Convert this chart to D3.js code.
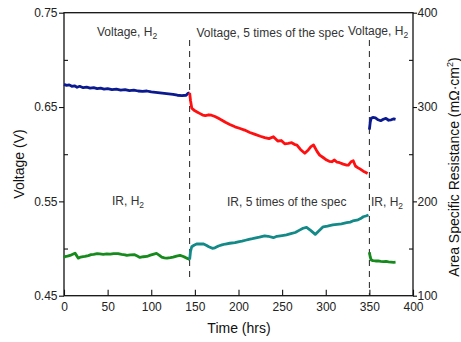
<!DOCTYPE html>
<html>
<head>
    <meta charset="UTF-8">
    <title>Voltage and IR vs time</title>
    <script src="https://d3js.org/d3.v7.min.js"></script>
    <style>
        body { margin: 0; background: white; }
        svg text { font-family: "Liberation Sans", Arial, sans-serif; }
    </style>
</head>
<body>
    <svg id="chart" width="461" height="342"></svg>

    <script>
        // voltage (V), [hrs, value]
        let voltageH2Start = [[0,0.674],[3,0.673],[6,0.6735],[9,0.672],[12,0.6725],[15,0.671],[18,0.672],[22,0.6705],[26,0.671],[30,0.670],[34,0.6705],[38,0.6695],[42,0.670],[46,0.669],[50,0.6695],[55,0.6685],[60,0.669],[65,0.668],[70,0.6685],[75,0.6675],[80,0.668],[85,0.667],[90,0.6665],[95,0.667],[100,0.666],[105,0.6655],[110,0.665],[115,0.6645],[120,0.664],[125,0.6635],[130,0.6625],[135,0.662],[140,0.6625],[142,0.6645],[144,0.665]];
        let voltage5x = [[144,0.665],[145,0.657],[146.4,0.649],[148,0.6475],[150,0.646],[153,0.6445],[156,0.643],[159,0.6415],[162,0.641],[166,0.6418],[169,0.6413],[173,0.640],[177,0.638],[181,0.636],[185,0.6338],[190,0.6315],[196,0.629],[201,0.6275],[207,0.6256],[213,0.623],[219,0.621],[225,0.619],[230,0.6175],[235,0.6165],[240,0.6185],[245,0.614],[249,0.6145],[253,0.611],[257,0.6115],[261,0.6122],[264,0.6105],[267,0.6097],[271,0.605],[276,0.601],[280,0.6045],[283,0.608],[286,0.6097],[290,0.603],[293,0.599],[297,0.5965],[301,0.5938],[304,0.5925],[307,0.592],[310,0.5938],[313,0.5915],[316,0.591],[320,0.5895],[324,0.5885],[326,0.5885],[329,0.592],[331.5,0.593],[334,0.5875],[337,0.5855],[340,0.584],[343,0.582],[346,0.5805],[348,0.5795]];
        let voltageH2End = [[350,0.626],[351,0.634],[352,0.638],[354,0.639],[357,0.6385],[360,0.6365],[363,0.6355],[366,0.637],[369,0.638],[372,0.636],[375,0.6365],[378,0.6375],[380,0.637]];

        // area specific resistance (mOhm cm2), [hrs, value]
        let irH2Start = [[0,140.5],[1,141.5],[4,142],[7,142.7],[10,144],[12.6,145.1],[14.5,142.5],[16.4,139.8],[19,141],[22,141.5],[24,141.6],[28,142.5],[31,143.5],[34,143.8],[38,144.5],[41,144.3],[45,143.9],[49,144.3],[53,144.1],[57,144.7],[62,144.5],[66,143.7],[70,143.3],[72,142.7],[76,143.2],[81,143.4],[84,142],[87,140.6],[91,141.3],[95,141.6],[99,143],[103,144.1],[106,144.8],[109,143],[112,140.9],[115,140.1],[118,139.8],[122,140.3],[125,140.9],[129,142],[133,142.7],[136,141.8],[139,140.6],[142,139.3],[144,138.3]];
        let ir5x = [[144,138.3],[145,147],[146.4,151.9],[149,153.5],[152,154.8],[156,155],[160,154.8],[163,153.5],[166,151.9],[170,150.2],[173,150.8],[177,152.7],[181,153.8],[185,154.8],[190,155.6],[196,156.2],[201,157.4],[204,157.8],[208,158.8],[212,159.8],[216,160.5],[220,161.3],[224,162],[230,163.5],[234,163],[240,161.5],[244,163],[250,163.8],[255,164.5],[260,165.8],[265,167],[270,169.5],[274,171.5],[278,172.5],[283,169],[288,165],[292,168.5],[297,173],[302,173.8],[308,175],[313,175.6],[318,176.2],[324,177.4],[328,178],[331,179.2],[337,180.5],[340,181.8],[343,183.7],[346,184.5],[349,185.6]];
        let irH2End = [[350,146],[351,141],[352,138],[354,137.2],[357,136.8],[360,137],[363,136.5],[366,136.2],[369,136.3],[372,135.8],[375,135.6],[378,135.3],[380,135.5]];

        let xTicks = [0, 50, 100, 150, 200, 250, 300, 350, 400];
        let leftTicks = [0.45, 0.55, 0.65, 0.75];
        let leftMinor = [0.50, 0.60, 0.70];
        let rightTicks = [100, 200, 300, 400];
        let rightMinor = [150, 250, 350];
        let switchHrs = [144, 350];

        let svg = d3.select("svg#chart");
        let margin = { top: 12.7, right: 48, bottom: 46.3, left: 64 };
        let width = +svg.attr("width");
        let height = +svg.attr("height");
        let plotRight = width - margin.right;
        let plotBottom = height - margin.bottom;

        let xScale = d3.scaleLinear().domain([0, 400]).range([margin.left, plotRight]);
        let vScale = d3.scaleLinear().domain([0.45, 0.75]).range([plotBottom, margin.top]);
        let rScale = d3.scaleLinear().domain([100, 400]).range([plotBottom, margin.top]);

        // axes
        let bottomAxis = d3.axisBottom(xScale).tickValues(xTicks)
            .tickSizeInner(-6).tickSizeOuter(0).tickPadding(7);
        svg.append("g").attr("class", "x axis")
            .attr("transform", "translate(0," + plotBottom + ")")
            .call(bottomAxis);

        let leftAxis = d3.axisLeft(vScale).tickValues(leftTicks)
            .tickFormat(d3.format(".2f")).tickSizeInner(5).tickSizeOuter(0).tickPadding(1.5);
        svg.append("g").attr("class", "y axis")
            .attr("transform", "translate(" + margin.left + ",0)")
            .call(leftAxis);
        svg.append("g").attr("class", "y minor")
            .attr("transform", "translate(" + margin.left + ",0)")
            .call(d3.axisLeft(vScale).tickValues(leftMinor).tickSizeInner(-4).tickSizeOuter(0).tickFormat(""));

        let rightAxis = d3.axisRight(rScale).tickValues(rightTicks)
            .tickSizeInner(4).tickSizeOuter(0).tickPadding(0.5);
        svg.append("g").attr("class", "r axis")
            .attr("transform", "translate(" + plotRight + ",0)")
            .call(rightAxis);
        svg.append("g").attr("class", "r minor")
            .attr("transform", "translate(" + plotRight + ",0)")
            .call(d3.axisRight(rScale).tickValues(rightMinor).tickSizeInner(-4).tickSizeOuter(0).tickFormat(""));

        svg.selectAll(".axis .domain, .minor .domain").remove();
        svg.selectAll(".tick line").attr("stroke", "#111").attr("stroke-width", 1.1);
        svg.selectAll(".tick text").attr("fill", "#222").style("font-size", "12px")
            .attr("font-family", "Liberation Sans, Arial, sans-serif");

        // frame
        svg.append("rect")
            .attr("x", margin.left).attr("y", margin.top)
            .attr("width", plotRight - margin.left).attr("height", plotBottom - margin.top)
            .attr("fill", "none").attr("stroke", "#111").attr("stroke-width", 1.3);

        // dashed separators
        svg.selectAll("line.switch").data(switchHrs)
            .join("line").attr("class", "switch")
            .attr("x1", d => xScale(d)).attr("x2", d => xScale(d))
            .attr("y1", 40)
            .attr("y2", (d, i) => i == 0 ? 278 : plotBottom)
            .attr("stroke", "#222").attr("stroke-width", 1)
            .attr("stroke-dasharray", "6,5");

        // series
        let series = [
            { data: voltageH2Start, scale: vScale, color: "#0b1a8f" },
            { data: voltage5x, scale: vScale, color: "#ff0f0f" },
            { data: voltageH2End, scale: vScale, color: "#0b1a8f" },
            { data: irH2Start, scale: rScale, color: "#168a1c" },
            { data: ir5x, scale: rScale, color: "#138a88" },
            { data: irH2End, scale: rScale, color: "#168a1c" }
        ];
        series.forEach(s => {
            let line = d3.line().x(d => xScale(d[0])).y(d => s.scale(d[1]));
            svg.append("path").datum(s.data)
                .attr("d", line)
                .attr("fill", "none")
                .attr("stroke", s.color)
                .attr("stroke-width", 2.8)
                .attr("stroke-linejoin", "round");
        });

        // annotations
        function note(x, y, label, sub) {
            let t = svg.append("text").attr("x", x).attr("y", y)
                .attr("font-family", "Liberation Sans, Arial, sans-serif")
                .attr("fill", "#333").style("font-size", "12px").text(label);
            if (sub) {
                t.append("tspan").attr("dy", 3).style("font-size", "8.5px").text(sub);
            }
        }
        note(97, 36, "Voltage, H", "2");
        note(196.5, 37, "Voltage, 5 times of the spec");
        note(348, 35, "Voltage, H", "2");
        note(112, 205, "IR, H", "2");
        note(227, 206, "IR, 5 times of the spec");
        note(371, 206, "IR, H", "2");

        // axis titles
        svg.append("text")
            .attr("transform", "translate(24,164) rotate(-90)")
            .attr("text-anchor", "middle").attr("fill", "#111")
            .style("font-size", "14px").text("Voltage (V)");
        svg.append("text")
            .attr("x", (margin.left + plotRight) / 2 + 0.5).attr("y", 333)
            .attr("text-anchor", "middle").attr("fill", "#111")
            .style("font-size", "14px").text("Time (hrs)");
        let rTitle = svg.append("text")
            .attr("transform", "translate(459,167) rotate(-90)")
            .attr("text-anchor", "middle").attr("fill", "#111")
            .style("font-size", "14px").text("Area Specific Resistance (mΩ·cm");
        rTitle.append("tspan").attr("dy", -6).style("font-size", "9px").text("2");
        rTitle.append("tspan").attr("dy", 6).text(")");
    </script>
</body>
</html>
